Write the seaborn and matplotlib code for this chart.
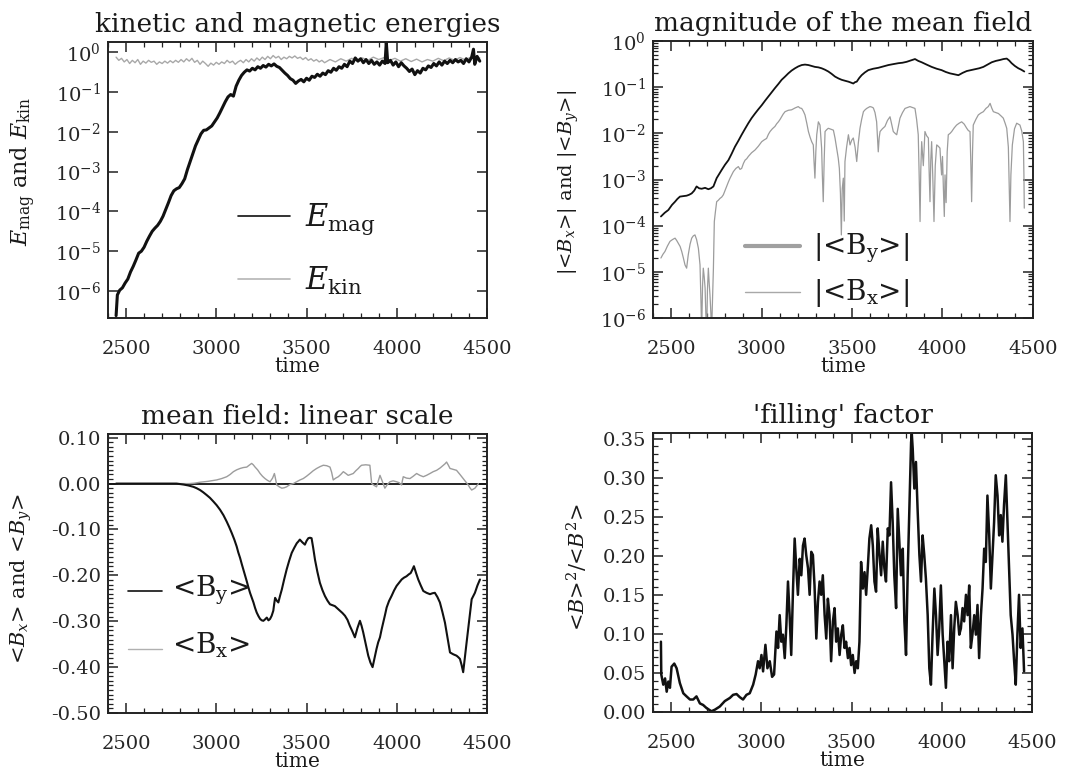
import matplotlib
matplotlib.use("Agg")
import numpy as np
import pandas as pd
import matplotlib.pyplot as plt
import seaborn as sns
from matplotlib.ticker import (MultipleLocator, LogLocator, NullLocator, FuncFormatter,
                               NullFormatter, FixedLocator)

# ---------------------------------------------------------------- data
# magnetic energy, log10(E_mag)
emag_pts = [
    (2445, -6.62), (2452, -6.10), (2465, -5.98), (2480, -5.92), (2495, -5.80), (2510, -5.70),
    (2525, -5.52), (2540, -5.38), (2555, -5.22), (2570, -5.05), (2585, -5.00), (2600, -4.90),
    (2615, -4.75), (2630, -4.62), (2645, -4.50), (2660, -4.42), (2675, -4.35), (2690, -4.25),
    (2705, -4.12), (2720, -3.95), (2735, -3.78), (2750, -3.60), (2765, -3.48), (2780, -3.43),
    (2795, -3.40), (2810, -3.30), (2825, -3.18), (2840, -2.95), (2855, -2.75), (2870, -2.55),
    (2885, -2.35), (2900, -2.20), (2915, -2.05), (2930, -1.96), (2945, -1.95), (2960, -1.90),
    (2975, -1.85), (2990, -1.75), (3005, -1.65), (3020, -1.52), (3035, -1.38), (3050, -1.24),
    (3065, -1.12), (3080, -1.06), (3095, -1.10), (3110, -0.85), (3125, -0.70), (3140, -0.58),
    (3155, -0.50), (3170, -0.44), (3185, -0.47), (3200, -0.40), (3215, -0.44), (3230, -0.36),
    (3245, -0.40), (3260, -0.33), (3275, -0.37), (3290, -0.30), (3305, -0.34), (3320, -0.29),
    (3335, -0.35), (3350, -0.38), (3365, -0.45), (3380, -0.52), (3395, -0.58), (3410, -0.66),
    (3425, -0.70), (3440, -0.78), (3455, -0.72), (3470, -0.68), (3485, -0.74), (3500, -0.65),
    (3515, -0.70), (3530, -0.60), (3545, -0.63), (3560, -0.55), (3575, -0.60), (3590, -0.52),
    (3605, -0.56), (3620, -0.46), (3635, -0.50), (3650, -0.40), (3665, -0.45), (3680, -0.36),
    (3695, -0.40), (3710, -0.30), (3725, -0.36), (3740, -0.22), (3755, -0.28), (3770, -0.14),
    (3785, -0.22), (3800, -0.16), (3815, -0.26), (3830, -0.18), (3845, -0.28), (3860, -0.20),
    (3875, -0.30), (3890, -0.24), (3905, -0.32), (3920, -0.22), (3935, -0.28), (3942, 0.26),
    (3950, -0.26), (3965, -0.20), (3980, -0.32), (3995, -0.24), (4010, -0.36), (4025, -0.26),
    (4040, -0.34), (4055, -0.40), (4070, -0.48), (4085, -0.42), (4100, -0.56), (4115, -0.46),
    (4130, -0.52), (4145, -0.40), (4160, -0.44), (4175, -0.34), (4190, -0.38), (4205, -0.28),
    (4220, -0.34), (4235, -0.24), (4250, -0.32), (4265, -0.22), (4280, -0.28), (4295, -0.20),
    (4310, -0.26), (4325, -0.18), (4340, -0.24), (4355, -0.20), (4370, -0.28), (4385, -0.16),
    (4400, -0.24), (4415, -0.12), (4425, 0.08), (4432, -0.30), (4445, -0.10), (4460, -0.22),
]

# kinetic energy, log10(E_kin)
ekin_pts = [
    (2445, -0.12), (2460, -0.20), (2475, -0.15), (2490, -0.24), (2505, -0.18), (2520, -0.28),
    (2535, -0.20), (2550, -0.26), (2565, -0.18), (2580, -0.30), (2595, -0.22), (2610, -0.27),
    (2625, -0.20), (2640, -0.25), (2655, -0.22), (2670, -0.30), (2685, -0.24), (2700, -0.28),
    (2715, -0.22), (2730, -0.27), (2745, -0.21), (2760, -0.26), (2775, -0.20), (2790, -0.25),
    (2805, -0.18), (2820, -0.24), (2835, -0.16), (2850, -0.22), (2865, -0.15), (2880, -0.25),
    (2895, -0.20), (2910, -0.30), (2925, -0.22), (2940, -0.28), (2955, -0.35), (2970, -0.27),
    (2985, -0.32), (3000, -0.25), (3015, -0.30), (3030, -0.24), (3045, -0.28), (3060, -0.20),
    (3075, -0.26), (3090, -0.22), (3105, -0.30), (3120, -0.24), (3135, -0.20), (3150, -0.26),
    (3165, -0.18), (3180, -0.24), (3195, -0.16), (3210, -0.22), (3225, -0.14), (3240, -0.20),
    (3255, -0.12), (3270, -0.18), (3285, -0.10), (3300, -0.16), (3315, -0.08), (3330, -0.14),
    (3345, -0.10), (3360, -0.18), (3375, -0.12), (3390, -0.16), (3405, -0.10), (3420, -0.14),
    (3435, -0.09), (3450, -0.15), (3465, -0.12), (3480, -0.18), (3495, -0.13), (3510, -0.20),
    (3525, -0.16), (3540, -0.22), (3555, -0.18), (3570, -0.24), (3585, -0.20), (3600, -0.26),
    (3630, -0.18), (3660, -0.24), (3690, -0.16), (3720, -0.22), (3750, -0.15), (3780, -0.21),
    (3810, -0.14), (3840, -0.20), (3870, -0.12), (3900, -0.18), (3930, -0.13), (3960, -0.20),
    (3990, -0.15), (4020, -0.22), (4050, -0.16), (4080, -0.23), (4110, -0.17), (4140, -0.24),
    (4170, -0.18), (4200, -0.22), (4230, -0.15), (4260, -0.21), (4290, -0.14), (4320, -0.20),
    (4350, -0.13), (4380, -0.19), (4410, -0.12), (4440, -0.18), (4460, -0.14),
]

# log10 |<B_y>|
by_abs_pts = [
    (2444, -3.80), (2465, -3.72), (2485, -3.66), (2505, -3.55), (2522, -3.48), (2535, -3.42),
    (2549, -3.37), (2567, -3.36), (2586, -3.35), (2600, -3.33), (2614, -3.30), (2628, -3.24),
    (2641, -3.15), (2655, -3.19), (2669, -3.20), (2688, -3.18), (2706, -3.21), (2720, -3.19),
    (2734, -3.15), (2752, -2.97), (2766, -2.88), (2780, -2.79), (2798, -2.68), (2817, -2.58),
    (2835, -2.44), (2853, -2.29), (2872, -2.16), (2890, -2.03), (2909, -1.90), (2927, -1.78),
    (2945, -1.67), (2964, -1.57), (2982, -1.48), (3001, -1.39), (3020, -1.29), (3038, -1.20),
    (3056, -1.11), (3074, -1.02), (3093, -0.93), (3111, -0.84), (3130, -0.77), (3148, -0.70),
    (3166, -0.64), (3185, -0.59), (3203, -0.55), (3222, -0.52), (3240, -0.51), (3259, -0.52),
    (3277, -0.54), (3295, -0.56), (3314, -0.57), (3332, -0.59), (3350, -0.62), (3369, -0.66),
    (3387, -0.71), (3406, -0.77), (3425, -0.81), (3443, -0.84), (3461, -0.86), (3480, -0.88),
    (3494, -0.90), (3507, -0.92), (3517, -0.89), (3526, -0.88), (3540, -0.80), (3553, -0.74),
    (3571, -0.68), (3590, -0.63), (3617, -0.60), (3645, -0.58), (3673, -0.55), (3701, -0.52),
    (3728, -0.50), (3756, -0.48), (3779, -0.47), (3802, -0.45), (3825, -0.42), (3848, -0.39),
    (3866, -0.43), (3885, -0.46), (3912, -0.51), (3940, -0.56), (3968, -0.60), (3995, -0.63),
    (4018, -0.67), (4041, -0.70), (4065, -0.72), (4088, -0.74), (4111, -0.69), (4134, -0.65),
    (4157, -0.63), (4180, -0.61), (4203, -0.59), (4226, -0.56), (4249, -0.51), (4272, -0.46),
    (4295, -0.43), (4318, -0.41), (4337, -0.39), (4355, -0.38), (4368, -0.42), (4382, -0.48),
    (4400, -0.54), (4419, -0.59), (4435, -0.62), (4452, -0.66),
]

# log10 |<B_x>|
bx_abs_pts = [
    (2444, -4.70), (2455, -4.62), (2466, -4.56), (2480, -4.44), (2494, -4.34), (2508, -4.30),
    (2522, -4.27), (2531, -4.32), (2540, -4.38), (2550, -4.45), (2559, -4.56), (2568, -4.70),
    (2577, -4.85), (2586, -4.92), (2595, -4.63), (2605, -4.40), (2614, -4.27), (2623, -4.22),
    (2632, -4.20), (2641, -4.30), (2651, -4.49), (2660, -4.85), (2665, -5.60), (2669, -6.30),
    (2674, -5.30), (2678, -4.92), (2683, -5.10), (2688, -5.35), (2692, -5.90), (2697, -6.30),
    (2701, -5.40), (2706, -4.92), (2710, -5.20), (2715, -5.50), (2720, -5.90), (2724, -6.30),
    (2729, -5.60), (2734, -4.92), (2739, -3.91), (2745, -3.70), (2752, -3.48), (2761, -3.45),
    (2770, -3.41), (2780, -3.38), (2789, -3.33), (2798, -3.24), (2807, -3.15), (2817, -3.05),
    (2826, -2.97), (2835, -2.90), (2844, -2.83), (2858, -2.76), (2872, -2.72), (2881, -2.78),
    (2890, -2.76), (2900, -2.65), (2909, -2.58), (2918, -2.55), (2927, -2.50), (2945, -2.42),
    (2964, -2.36), (2982, -2.28), (3001, -2.18), (3015, -2.14), (3028, -2.11), (3038, -2.02),
    (3047, -1.96), (3060, -1.90), (3074, -1.85), (3084, -1.79), (3093, -1.75), (3102, -1.70),
    (3111, -1.64), (3120, -1.58), (3130, -1.53), (3148, -1.50), (3166, -1.49), (3185, -1.45),
    (3203, -1.42), (3212, -1.45), (3222, -1.46), (3231, -1.52), (3240, -1.60), (3250, -1.78),
    (3259, -1.96), (3268, -2.08), (3277, -2.18), (3286, -2.25), (3290, -2.60), (3295, -2.97),
    (3300, -2.40), (3305, -2.03), (3314, -1.75), (3323, -1.82), (3332, -2.32), (3336, -2.90),
    (3341, -3.48), (3346, -2.60), (3351, -1.96), (3360, -1.92), (3369, -1.89), (3383, -1.91),
    (3397, -1.93), (3406, -2.10), (3415, -2.32), (3424, -2.54), (3430, -2.76), (3436, -3.30),
    (3441, -4.20), (3446, -3.20), (3452, -2.97), (3457, -3.90), (3461, -2.61), (3470, -2.30),
    (3480, -2.03), (3489, -2.25), (3498, -2.15), (3507, -2.10), (3517, -2.30), (3526, -2.61),
    (3535, -2.20), (3544, -1.89), (3553, -1.70), (3563, -1.53), (3572, -1.49), (3581, -1.46),
    (3590, -1.44), (3599, -1.42), (3609, -1.43), (3618, -1.45), (3627, -1.55), (3636, -1.75),
    (3641, -2.10), (3645, -2.40), (3650, -2.10), (3655, -1.96), (3668, -1.90), (3682, -1.85),
    (3696, -1.72), (3710, -1.64), (3719, -1.80), (3728, -1.96), (3738, -2.00), (3747, -2.03),
    (3756, -1.85), (3765, -1.67), (3779, -1.55), (3793, -1.46), (3806, -1.44), (3820, -1.42),
    (3834, -1.44), (3848, -1.46), (3857, -1.70), (3866, -2.03), (3871, -2.90), (3876, -3.91),
    (3880, -2.80), (3885, -2.18), (3894, -2.70), (3903, -1.96), (3912, -2.05), (3922, -2.10),
    (3926, -2.80), (3931, -3.48), (3935, -2.60), (3940, -2.18), (3946, -2.90), (3953, -3.91),
    (3960, -2.70), (3968, -2.25), (3977, -2.28), (3986, -2.32), (3990, -2.60), (3995, -2.90),
    (4000, -2.50), (4005, -3.20), (4010, -3.80), (4014, -2.90), (4020, -3.50), (4026, -2.40),
    (4032, -2.03), (4042, -2.00), (4051, -1.96), (4065, -1.88), (4078, -1.82), (4092, -1.78),
    (4106, -1.75), (4120, -1.80), (4134, -1.89), (4143, -1.94), (4152, -1.96), (4157, -2.70),
    (4161, -3.48), (4166, -2.40), (4170, -1.82), (4184, -1.70), (4198, -1.60), (4212, -1.56),
    (4226, -1.53), (4240, -1.46), (4253, -1.42), (4263, -1.35), (4272, -1.45), (4281, -1.53),
    (4295, -1.55), (4309, -1.57), (4323, -1.62), (4336, -1.67), (4346, -1.78), (4355, -1.89),
    (4364, -2.30), (4369, -3.20), (4373, -3.91), (4378, -2.90), (4386, -2.25), (4398, -1.90),
    (4410, -1.78), (4419, -1.80), (4428, -1.82), (4438, -1.95), (4447, -2.18), (4450, -2.90),
    (4452, -3.62),
]

# <B_y> on a linear scale
by_pts = [
    (2445, 0.0), (2780, 0.0), (2800, -0.001), (2818, -0.002), (2845, -0.004), (2873, -0.007),
    (2891, -0.010), (2910, -0.014), (2928, -0.019), (2947, -0.025), (2965, -0.031), (2984, -0.039),
    (3002, -0.047), (3021, -0.057), (3040, -0.069), (3058, -0.083), (3072, -0.095), (3086, -0.108),
    (3100, -0.122), (3113, -0.137), (3122, -0.150), (3132, -0.162), (3141, -0.175), (3150, -0.187),
    (3160, -0.200), (3169, -0.213), (3178, -0.226), (3187, -0.238), (3197, -0.249), (3206, -0.259),
    (3215, -0.271), (3224, -0.281), (3234, -0.289), (3243, -0.295), (3252, -0.298), (3261, -0.299),
    (3270, -0.296), (3280, -0.292), (3289, -0.298), (3298, -0.295), (3307, -0.288), (3316, -0.277),
    (3321, -0.262), (3326, -0.249), (3335, -0.255), (3344, -0.259), (3353, -0.245), (3363, -0.231),
    (3376, -0.209), (3390, -0.187), (3404, -0.168), (3418, -0.151), (3432, -0.140), (3446, -0.130),
    (3455, -0.126), (3463, -0.122), (3477, -0.128), (3491, -0.133), (3500, -0.125), (3510, -0.119),
    (3519, -0.118), (3528, -0.119), (3537, -0.140), (3547, -0.166), (3560, -0.192), (3574, -0.216),
    (3588, -0.232), (3602, -0.245), (3616, -0.255), (3630, -0.263), (3643, -0.265), (3657, -0.267),
    (3671, -0.272), (3685, -0.277), (3699, -0.282), (3713, -0.288), (3727, -0.297), (3740, -0.310),
    (3754, -0.322), (3768, -0.335), (3782, -0.315), (3796, -0.299), (3805, -0.310), (3814, -0.324),
    (3828, -0.350), (3842, -0.375), (3854, -0.390), (3866, -0.400), (3877, -0.380), (3888, -0.360),
    (3897, -0.346), (3907, -0.335), (3916, -0.318), (3925, -0.303), (3935, -0.286), (3944, -0.270),
    (3957, -0.256), (3971, -0.245), (3985, -0.233), (3999, -0.223), (4013, -0.216), (4027, -0.209),
    (4040, -0.205), (4054, -0.202), (4066, -0.198), (4077, -0.195), (4086, -0.188), (4095, -0.180),
    (4107, -0.195), (4119, -0.209), (4133, -0.222), (4147, -0.234), (4165, -0.238), (4184, -0.241),
    (4198, -0.239), (4211, -0.238), (4225, -0.247), (4239, -0.259), (4253, -0.280), (4267, -0.303),
    (4281, -0.336), (4295, -0.368), (4313, -0.372), (4331, -0.375), (4340, -0.378), (4350, -0.382),
    (4359, -0.395), (4368, -0.411), (4377, -0.380), (4387, -0.346), (4401, -0.300), (4415, -0.252),
    (4424, -0.245), (4433, -0.238), (4447, -0.222), (4461, -0.209),
]

# <B_x> on a linear scale
bx_pts = [
    (2445, 0.0), (2850, 0.0), (2880, 0.001), (2910, 0.003), (2955, 0.005), (3002, 0.008),
    (3030, 0.011), (3058, 0.015), (3077, 0.020), (3095, 0.026), (3113, 0.030), (3132, 0.033),
    (3150, 0.035), (3169, 0.036), (3182, 0.040), (3196, 0.044), (3205, 0.041), (3215, 0.036),
    (3229, 0.030), (3243, 0.022), (3256, 0.016), (3270, 0.011), (3284, 0.007), (3298, 0.004),
    (3312, 0.012), (3322, 0.022), (3326, 0.015), (3335, -0.003), (3349, -0.007), (3363, -0.010),
    (3377, -0.009), (3390, -0.007), (3408, -0.002), (3427, 0.000), (3445, 0.004), (3464, 0.008),
    (3482, 0.011), (3500, 0.016), (3519, 0.022), (3537, 0.028), (3556, 0.033), (3575, 0.037),
    (3593, 0.040), (3612, 0.039), (3630, 0.036), (3639, 0.025), (3648, 0.008), (3662, 0.012),
    (3676, 0.015), (3690, 0.020), (3704, 0.026), (3718, 0.022), (3731, 0.018), (3745, 0.020),
    (3759, 0.022), (3773, 0.028), (3787, 0.033), (3796, 0.037), (3805, 0.040), (3828, 0.041),
    (3851, 0.040), (3856, 0.020), (3861, 0.000), (3875, -0.004), (3888, -0.007), (3897, 0.005),
    (3907, 0.018), (3920, 0.005), (3934, -0.010), (3948, -0.002), (3962, 0.004), (3980, 0.006),
    (3999, 0.004), (4013, 0.002), (4027, -0.003), (4031, 0.006), (4036, 0.015), (4054, 0.012),
    (4073, 0.011), (4091, 0.016), (4110, 0.022), (4128, 0.018), (4147, 0.015), (4165, 0.018),
    (4184, 0.022), (4202, 0.026), (4221, 0.029), (4240, 0.034), (4258, 0.040), (4267, 0.043),
    (4276, 0.047), (4286, 0.040), (4295, 0.033), (4313, 0.031), (4331, 0.029), (4350, 0.020),
    (4368, 0.011), (4382, 0.004), (4396, -0.003), (4405, -0.009), (4415, -0.014), (4424, -0.012),
    (4433, -0.010), (4443, -0.005), (4452, 0.000),
]

# filling factor <B>^2/<B^2>
fill_pts = [
    (2444, 0.090), (2446, 0.048), (2457, 0.035), (2467, 0.043), (2476, 0.026), (2485, 0.039),
    (2494, 0.031), (2503, 0.058), (2518, 0.062), (2531, 0.056), (2549, 0.037), (2568, 0.024),
    (2586, 0.020), (2605, 0.016), (2623, 0.016), (2641, 0.020), (2660, 0.011), (2678, 0.009),
    (2697, 0.005), (2724, 0.001), (2743, 0.003), (2770, 0.007), (2798, 0.014), (2826, 0.018),
    (2844, 0.022), (2863, 0.023), (2881, 0.019), (2899, 0.016), (2918, 0.022), (2936, 0.024),
    (2955, 0.035), (2969, 0.048), (2982, 0.065), (2991, 0.056), (3001, 0.073), (3010, 0.052),
    (3023, 0.086), (3034, 0.056), (3047, 0.065), (3060, 0.045), (3071, 0.048), (3084, 0.103),
    (3093, 0.082), (3102, 0.124), (3111, 0.090), (3120, 0.099), (3130, 0.069), (3139, 0.111),
    (3148, 0.167), (3157, 0.124), (3166, 0.073), (3176, 0.158), (3185, 0.222), (3194, 0.184),
    (3203, 0.150), (3213, 0.196), (3222, 0.175), (3231, 0.213), (3240, 0.222), (3249, 0.201),
    (3259, 0.184), (3268, 0.150), (3277, 0.205), (3286, 0.201), (3295, 0.162), (3305, 0.094),
    (3314, 0.141), (3323, 0.167), (3332, 0.150), (3341, 0.175), (3351, 0.124), (3360, 0.094),
    (3369, 0.145), (3378, 0.124), (3387, 0.065), (3397, 0.116), (3406, 0.133), (3415, 0.090),
    (3424, 0.107), (3434, 0.073), (3443, 0.099), (3452, 0.111), (3461, 0.082), (3470, 0.090),
    (3480, 0.069), (3489, 0.082), (3498, 0.060), (3507, 0.073), (3517, 0.050), (3526, 0.065),
    (3535, 0.056), (3544, 0.090), (3553, 0.192), (3563, 0.158), (3572, 0.179), (3581, 0.150),
    (3590, 0.184), (3599, 0.222), (3609, 0.239), (3618, 0.213), (3627, 0.167), (3636, 0.154),
    (3645, 0.235), (3655, 0.201), (3664, 0.175), (3673, 0.218), (3682, 0.184), (3691, 0.167),
    (3701, 0.235), (3710, 0.226), (3719, 0.294), (3728, 0.243), (3737, 0.175), (3747, 0.133),
    (3756, 0.260), (3765, 0.218), (3774, 0.175), (3784, 0.209), (3793, 0.116), (3802, 0.073),
    (3811, 0.175), (3820, 0.256), (3830, 0.345), (3834, 0.356), (3839, 0.337), (3848, 0.286),
    (3857, 0.320), (3866, 0.260), (3876, 0.201), (3885, 0.167), (3894, 0.226), (3903, 0.201),
    (3912, 0.171), (3922, 0.124), (3931, 0.056), (3940, 0.035), (3949, 0.099), (3959, 0.158),
    (3968, 0.124), (3977, 0.073), (3986, 0.107), (3995, 0.162), (4005, 0.099), (4014, 0.065),
    (4023, 0.031), (4032, 0.090), (4041, 0.065), (4051, 0.124), (4060, 0.056), (4069, 0.107),
    (4078, 0.141), (4088, 0.124), (4097, 0.099), (4106, 0.107), (4115, 0.133), (4124, 0.116),
    (4134, 0.150), (4143, 0.124), (4152, 0.162), (4161, 0.082), (4170, 0.099), (4180, 0.124),
    (4189, 0.099), (4198, 0.137), (4207, 0.069), (4217, 0.124), (4226, 0.158), (4235, 0.209),
    (4244, 0.192), (4253, 0.277), (4263, 0.226), (4272, 0.158), (4281, 0.201), (4290, 0.243),
    (4299, 0.303), (4309, 0.277), (4318, 0.226), (4327, 0.252), (4336, 0.218), (4345, 0.265),
    (4355, 0.303), (4364, 0.243), (4373, 0.184), (4382, 0.124), (4392, 0.099), (4401, 0.065),
    (4410, 0.035), (4419, 0.099), (4428, 0.150), (4437, 0.082), (4447, 0.107), (4456, 0.052),
]

titles = ["kinetic and magnetic energies", "magnitude of the mean field",
          "mean field: linear scale", "'filling' factor"]
x_ticks = [2500, 3000, 3500, 4000, 4500]

# ---------------------------------------------------------------- style
sns.set_theme(style="ticks")
plt.rcParams.update({
    "font.family": ["DejaVu Serif"],
    "mathtext.fontset": "dejavuserif",
    "axes.unicode_minus": False,
    "axes.linewidth": 1.4,
    "axes.edgecolor": "#222222",
    "text.color": "#1a1a1a",
    "axes.labelcolor": "#1a1a1a",
})

BLACK = "#111111"
GREY = "#9c9c9c"

fig = plt.figure(figsize=(10.68, 7.70), dpi=100)
ax1 = fig.add_axes([0.1011, 0.5870, 0.3549, 0.3584])
ax2 = fig.add_axes([0.6114, 0.5870, 0.3558, 0.3597])
ax3 = fig.add_axes([0.1011, 0.0740, 0.3549, 0.3623])
ax4 = fig.add_axes([0.6114, 0.0753, 0.3549, 0.3623])


def frame(pts, log=False):
    t, v = zip(*pts)
    v = np.asarray(v, dtype=float)
    return pd.DataFrame({"time": t, "value": 10.0 ** v if log else v})


def draw(ax, pts, color, lw, log=False):
    sns.lineplot(data=frame(pts, log), x="time", y="value", ax=ax, color=color,
                 linewidth=lw, estimator=None, sort=False)


def log_label(v, pos):
    return r"$10^{%d}$" % int(round(np.log10(v)))


def common(ax, title):
    ax.set_xlim(2400, 4500)
    ax.xaxis.set_major_locator(FixedLocator(x_ticks))
    ax.xaxis.set_minor_locator(MultipleLocator(100))
    ax.tick_params(which="both", direction="in", top=True, right=True,
                   bottom=True, left=True, color="#222222")
    ax.tick_params(which="major", length=7, width=1.1)
    ax.tick_params(which="minor", length=3.5, width=0.9)
    ax.tick_params(axis="x", which="major", labelsize=14, pad=16)
    ax.tick_params(axis="y", which="major", labelsize=14, pad=5)
    ax.set_xlabel("time", fontsize=14.5, labelpad=-1)
    ax.set_title(title, fontsize=19, pad=7)
    for s in ax.spines.values():
        s.set_visible(True)


# panel 1: energies
ax1.set_yscale("log")
draw(ax1, ekin_pts, "#a8a8a8", 1.0, log=True)
draw(ax1, emag_pts, BLACK, 2.2, log=True)
ax1.set_ylim(10 ** -6.68, 10 ** 0.26)
ax1.yaxis.set_major_locator(LogLocator(base=10, numticks=20))
ax1.yaxis.set_minor_locator(NullLocator())
ax1.yaxis.set_major_formatter(FuncFormatter(log_label))
ax1.set_ylabel(r"$E_{\rm mag}$ and $E_{\rm kin}$", fontsize=16)
common(ax1, titles[0])
ax1.yaxis.set_label_coords(-0.185, 0.53)
ax1.plot([0.343, 0.48], [0.37, 0.37], color=BLACK, lw=1.2, transform=ax1.transAxes)
ax1.plot([0.343, 0.48], [0.141, 0.141], color="#b5b5b5", lw=1.2, transform=ax1.transAxes)
ax1.text(0.52, 0.333, r"$E_{\rm mag}$", fontsize=22, transform=ax1.transAxes, va="baseline")
ax1.text(0.52, 0.101, r"$E_{\rm kin}$", fontsize=22, transform=ax1.transAxes, va="baseline")

# panel 2: magnitude of the mean field
ax2.set_yscale("log")
draw(ax2, bx_abs_pts, GREY, 0.9, log=True)
draw(ax2, by_abs_pts, BLACK, 1.3, log=True)
ax2.set_ylim(1e-6, 1.0)
ax2.yaxis.set_major_locator(LogLocator(base=10, numticks=20))
ax2.yaxis.set_minor_locator(LogLocator(base=10, subs=np.arange(2, 10), numticks=20))
ax2.yaxis.set_minor_formatter(NullFormatter())
ax2.yaxis.set_major_formatter(FuncFormatter(log_label))
ax2.set_ylabel(r"|<$B_x$>| and |<$B_y$>|", fontsize=14)
common(ax2, titles[1])
ax2.yaxis.set_label_coords(-0.19, 0.49)
ax2.plot([0.242, 0.387], [0.26, 0.26], color="#a0a0a0", lw=3.0, transform=ax2.transAxes)
ax2.plot([0.242, 0.387], [0.094, 0.094], color="#a8a8a8", lw=1.0, transform=ax2.transAxes)
ax2.text(0.421, 0.231, r"|<B$_{\rm y}$>|", fontsize=20, transform=ax2.transAxes, va="baseline")
ax2.text(0.421, 0.065, r"|<B$_{\rm x}$>|", fontsize=20, transform=ax2.transAxes, va="baseline")

# panel 3: mean field, linear scale
ax3.axhline(0.0, color=BLACK, lw=1.3)
draw(ax3, bx_pts, GREY, 1.0)
draw(ax3, by_pts, BLACK, 1.5)
ax3.set_ylim(-0.50, 0.108)
ax3.yaxis.set_major_locator(MultipleLocator(0.1))
ax3.yaxis.set_minor_locator(MultipleLocator(0.01))
ax3.yaxis.set_major_formatter(FuncFormatter(lambda v, p: "%.2f" % (0.0 if abs(v) < 1e-9 else v)))
ax3.set_ylabel(r"<$B_x$> and <$B_y$>", fontsize=15)
common(ax3, titles[2])
ax3.yaxis.set_label_coords(-0.195, 0.48)
ax3.plot([0.053, 0.142], [0.437, 0.437], color=BLACK, lw=1.2, transform=ax3.transAxes)
ax3.plot([0.053, 0.142], [0.229, 0.229], color="#b0b0b0", lw=1.0, transform=ax3.transAxes)
ax3.text(0.169, 0.419, r"<B$_{\rm y}$>", fontsize=20, transform=ax3.transAxes, va="baseline")
ax3.text(0.169, 0.212, r"<B$_{\rm x}$>", fontsize=20, transform=ax3.transAxes, va="baseline")

# panel 4: filling factor
draw(ax4, fill_pts, BLACK, 1.8)
ax4.set_ylim(0.0, 0.357)
ax4.yaxis.set_major_locator(MultipleLocator(0.05))
ax4.yaxis.set_minor_locator(MultipleLocator(0.01))
ax4.yaxis.set_major_formatter(FuncFormatter(lambda v, p: "%.2f" % v))
ax4.set_ylabel(r"<$B$>$^2$/<$B^2$>", fontsize=15)
common(ax4, titles[3])
ax4.yaxis.set_label_coords(-0.165, 0.52)

fig.savefig("out.png", dpi=100, facecolor="white")
